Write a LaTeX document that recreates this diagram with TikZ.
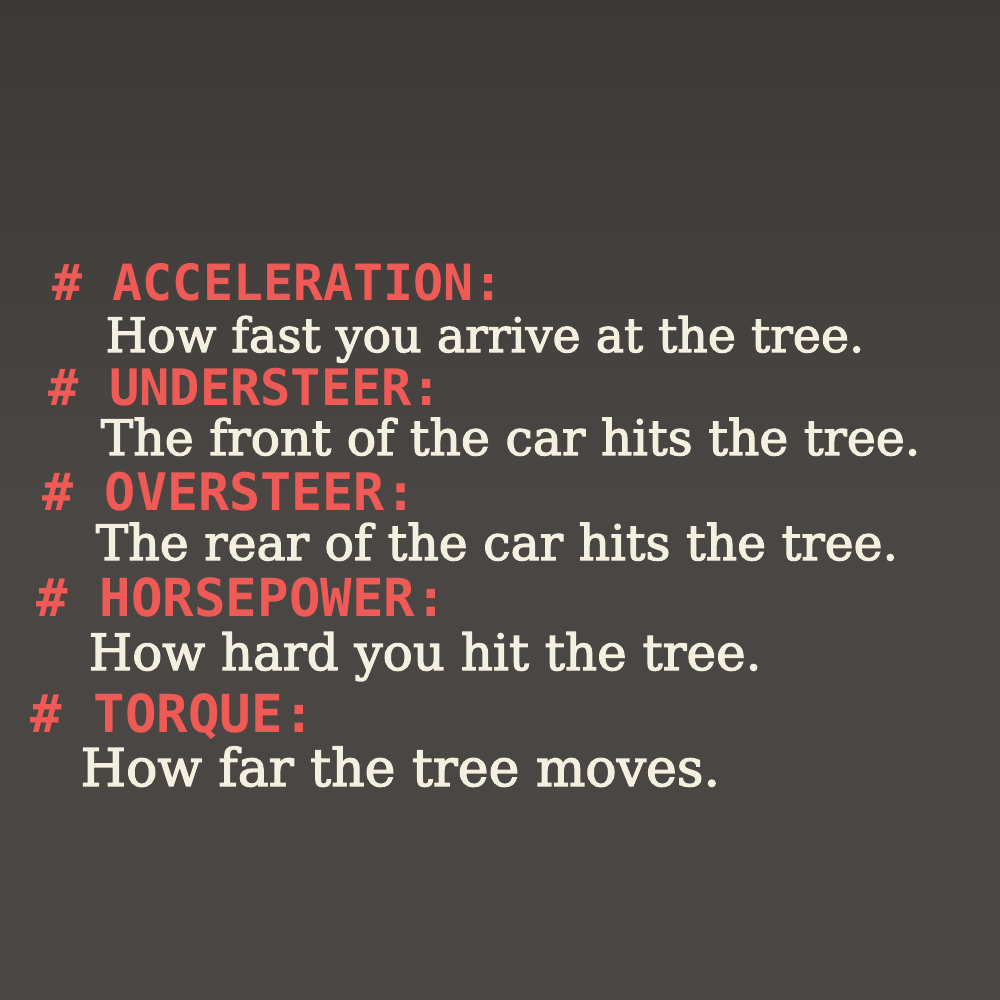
\documentclass[tikz,border=0pt]{standalone}
\usepackage{fontspec}
\newfontfamily\headfont{DejaVu Sans Mono}
\newfontfamily\bodyfont[FakeBold=2.5]{DejaVu Serif}
\definecolor{bg}{HTML}{4A4644}
\definecolor{bgdark}{HTML}{3C3836}
\definecolor{headred}{HTML}{EE5A55}
\definecolor{cream}{HTML}{F4EFDF}
\tikzset{
  head/.style={anchor=base west, inner sep=0pt, text=headred, font=\headfont\bfseries\fontsize{#1}{15}\selectfont},
  body/.style={anchor=base west, inner sep=0pt, text=cream, font=\bodyfont\fontsize{#1}{14}\selectfont},
}
\begin{document}
\begin{tikzpicture}[x=0.01cm,y=-0.01cm]
\useasboundingbox (0,0) rectangle (1000,1000);
\shade[top color=bgdark, bottom color=bg, middle color=bg] (0,0) rectangle (1000,1000);
\node[head=14.2] (h1) at (52,300) {\# ACCELERATION:};
\node[body=13.5] (b1) at (105,352) {How fast you arrive at the tree.};
\node[head=14.3] (h2) at (48,405) {\# UNDERSTEER:};
\node[body=13.9] (b2) at (100,455) {The front of the car hits the tree.};
\node[head=14.7] (h3) at (42,510) {\# OVERSTEER:};
\node[body=13.9] (b3) at (95,560) {The rear of the car hits the tree.};
\node[head=14.9] (h4) at (36,616) {\# HORSEPOWER:};
\node[body=14.2] (b4) at (88,670) {How hard you hit the tree.};
\node[head=14.9] (h5) at (30,732) {\# TORQUE:};
\node[body=14.8] (b5) at (80,786) {How far the tree moves.};
\end{tikzpicture}
\end{document}
